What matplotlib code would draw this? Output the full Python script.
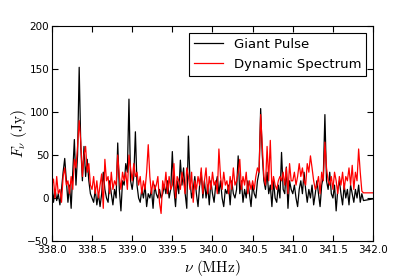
import numpy as np
import matplotlib
matplotlib.use("Agg")
import matplotlib.pyplot as plt

plt.rcParams['mathtext.fontset'] = 'cm'

# frequency grid (MHz)
freq = [338.00 + 0.02 * i for i in range(195)] + [342.0]

giant_pulse = [
    20, -5, 10, -3, 5,
    -8, 10, 30, 46, 20,
    -5, 15, -12, 30, 68,
    15, 50, 152, 60, 20,
    60, 25, 45, 20, 5,
    0, -5, 10, -8, 5,
    -10, 5, 30, 10, 0,
    -5, 20, 5, -8, 10,
    0, 64, 10, -15, 20,
    15, 40, 30, 115, 20,
    10, 25, 77, 15, 0,
    -5, 10, 0, 15, -10,
    5, 0, 10, -12, 15,
    5, 0, 10, 0, 5,
    15, 5, 20, 0, 10,
    54, 10, -10, 20, 5,
    44, 15, 35, 5, -12,
    72, 20, 0, 10, 25,
    5, -10, 15, 30, 0,
    20, 0, 15, -8, 20,
    5, -5, 15, 25, 5,
    20, 0, -10, 10, 5,
    15, -8, 20, 5, 0,
    10, 49, 5, 20, -5,
    10, 0, 20, 5, -10,
    15, 5, 0, 20, 30,
    104, 50, 20, 10, 30,
    5, 15, -10, 20, 0,
    -5, 15, 0, 53, 10,
    5, 36, -12, 20, 10,
    5, 15, 0, -10, 10,
    20, 5, 30, 10, -5,
    10, 0, 15, -8, 5,
    20, 5, -10, 15, 25,
    97, 20, 10, 30, 5,
    0, 15, -15, 10, 20,
    5, -8, 15, 0, 10,
    -8, 15, 5, -5, 10,
    0, 15, -5, 5, -3,
    -1,
]

dynamic_spectrum = [
    15, 22, 0, 25, 5,
    10, -5, 25, 35, 15,
    20, 5, 25, 10, 45,
    35, 60, 90, 65, 25,
    50, 60, 30, 40, 15,
    10, 25, 5, 20, 0,
    15, 28, -12, 45, 20,
    25, 5, 30, 10, 20,
    15, 50, 25, 10, 30,
    20, 30, 10, 50, 35,
    20, 40, 25, 30, 15,
    25, 5, 20, 10, 30,
    62, 25, 5, 20, 10,
    15, 25, -5, -18, 20,
    10, 30, 5, 25, 10,
    15, 40, 0, 25, 20,
    10, 30, 20, 5, 35,
    25, 10, 30, -5, 20,
    10, 25, 15, 35, 5,
    20, 35, 5, 25, 10,
    30, 15, 20, 5, 57,
    25, 10, 30, 15, 20,
    5, 25, 10, 35, 15,
    20, 30, 45, 10, 25,
    15, 30, 5, 20, 10,
    20, 10, 25, 35, 30,
    97, 60, 25, 15, 60,
    20, 67, 10, 25, 15,
    10, 20, 25, 20, 30,
    15, 35, 5, 40, 20,
    20, 30, 15, 25, 40,
    25, 35, 20, 15, 40,
    30, 49, 35, 20, 10,
    15, 25, 5, 30, 20,
    65, 35, 20, 15, 25,
    10, 30, 20, 5, 25,
    15, 30, 10, 25, 20,
    35, 15, 38, 10, 30,
    20, 57, 30, 8, 6,
    6,
]

fig = plt.figure(figsize=(4.15, 2.77), dpi=100, facecolor='white')
ax = fig.add_axes([0.125, 0.13, 0.774, 0.776])
ax.plot(freq, giant_pulse, color='black', lw=0.9, label='Giant Pulse')
ax.plot(freq, dynamic_spectrum, color='red', lw=0.9, label='Dynamic Spectrum')

ax.set_xlim(338.0, 342.0)
ax.set_ylim(-50, 200)
ax.set_xticks(np.arange(338.0, 342.01, 0.5))
ax.set_xticklabels(['%.1f' % v for v in np.arange(338.0, 342.01, 0.5)])
ax.set_yticks([-50, 0, 50, 100, 150, 200])
ax.tick_params(direction='in', top=True, right=True, labelsize=7.5, length=4)
ax.tick_params(axis='x', pad=3)
ax.tick_params(axis='y', pad=2)
ax.set_xlabel(r'$\nu\ (\mathrm{MHz})$', fontsize=11, labelpad=2)
ax.set_ylabel(r'$F_\nu\ (\mathrm{Jy})$', fontsize=11, labelpad=-1)
leg = ax.legend(loc='upper right', fontsize=9.5, fancybox=False, edgecolor='black',
                framealpha=1, handlelength=2.2, borderaxespad=0.5)
leg.get_frame().set_linewidth(0.8)

fig.savefig('out.png', dpi=100, facecolor='white')
